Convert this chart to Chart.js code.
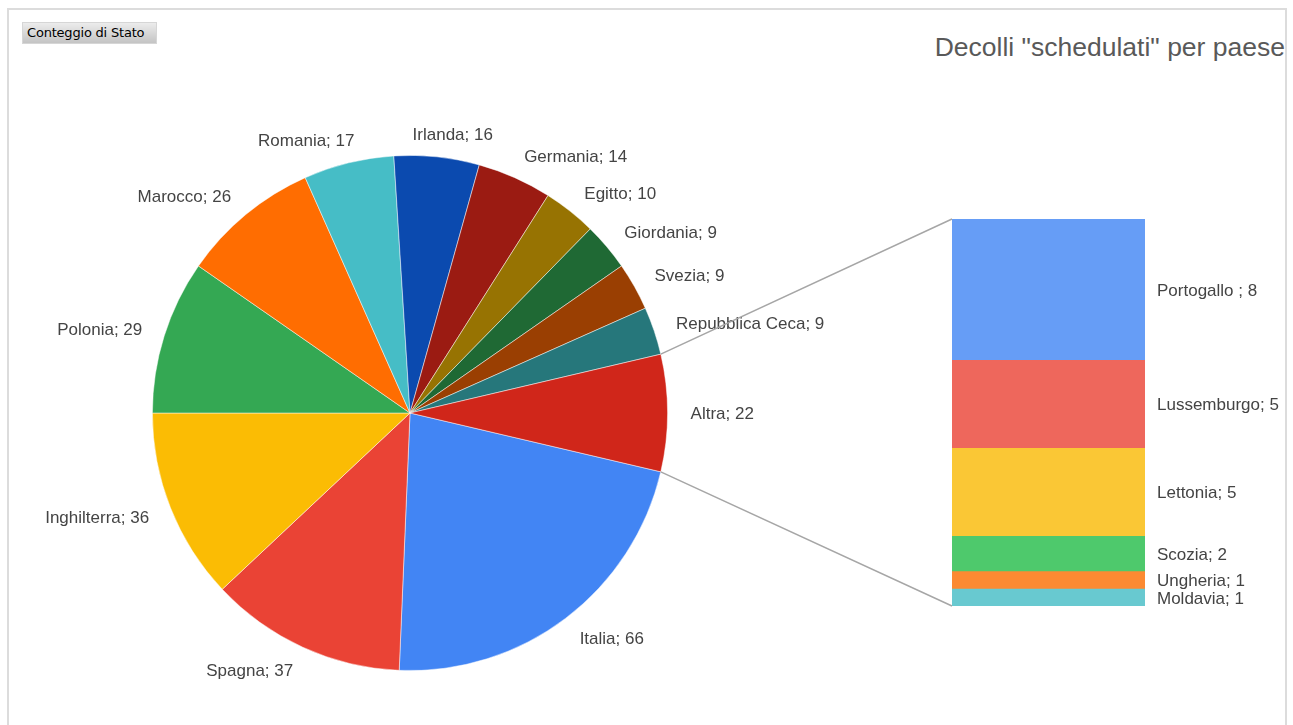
<!DOCTYPE html>
<html lang="it">
<head>
    <meta charset="UTF-8">
    <title>Decolli schedulati per paese</title>
    <style>
        html, body { margin: 0; padding: 0; background: #fff; }
        #wrap { position: relative; width: 1293px; height: 725px; overflow: hidden; }
        #frame {
            position: absolute; left: 7px; top: 8px; width: 1280px; height: 740px;
            border: 2px solid #dcdcdc; box-sizing: border-box;
        }
        #badge {
            position: absolute; left: 22px; top: 22px; width: 135px; height: 22px;
            background: linear-gradient(#ececec, #c4c4c4);
            border: 1px solid #d6d6d6; box-sizing: border-box;
            font: 13px "DejaVu Sans", sans-serif; color: #000;
            line-height: 20px; padding-left: 4px; letter-spacing: -0.2px;
        }
        #title {
            position: absolute; right: 8px; top: 32px;
            font: 26.5px "Liberation Sans", Arial, sans-serif; line-height: 30px; color: #595959;
        }
        canvas { position: absolute; left: 0; top: 0; }
    </style>
</head>
<body>
<div id="wrap">
    <div id="frame"></div>
    <div id="badge">Conteggio di Stato</div>
    <div id="title">Decolli "schedulati" per paese</div>
    <canvas id="pieChart" width="1293" height="725"></canvas>
    <canvas id="barChart" width="1293" height="725"></canvas>
</div>

<script src="https://cdn.jsdelivr.net/npm/chart.js"></script>
<script>
    // main pie, clockwise from the "Altra" slice
    const paesi = ['Italia', 'Spagna', 'Inghilterra', 'Polonia', 'Marocco', 'Romania', 'Irlanda',
        'Germania', 'Egitto', 'Giordania', 'Svezia', 'Repubblica Ceca', 'Altra'];
    const decolli = [66, 37, 36, 29, 26, 17, 16, 14, 10, 9, 9, 9, 22];
    const coloriPie = ['#4285f4', '#ea4335', '#fbbc04', '#34a853', '#ff6d01', '#46bdc6', '#0b4aaf',
        '#9b1b12', '#977302', '#1f6934', '#9a3f02', '#26777b', '#d0261a'];

    // breakdown of "Altra", top to bottom
    const altri = ['Portogallo ', 'Lussemburgo', 'Lettonia', 'Scozia', 'Ungheria', 'Moldavia'];
    const decolliAltri = [8, 5, 5, 2, 1, 1];
    const coloriBar = ['#669df6', '#ee675c', '#fac735', '#4ec96c', '#fc8a32', '#68c9d0'];

    const FONT = '17px "Liberation Sans", Arial, sans-serif';
    const TEXT = '#444444';

    let pie, bar;

    const total = decolli.reduce((a, b) => a + b, 0);
    const altraVal = decolli[decolli.length - 1];

    const pieLabels = {
        id: 'pieLabels',
        afterDraw(chart) {
            const ctx = chart.ctx;
            const meta = chart.getDatasetMeta(0);
            ctx.save();
            ctx.font = FONT;
            ctx.fillStyle = TEXT;
            ctx.textBaseline = 'middle';
            ctx.textAlign = 'left';
            meta.data.forEach((arc, i) => {
                const p = arc.getProps(['x', 'y', 'startAngle', 'endAngle', 'outerRadius'], true);
                const mid = (p.startAngle + p.endAngle) / 2;
                const dx = Math.cos(mid), dy = Math.sin(mid);
                const r = p.outerRadius + 23;
                const ax = p.x + r * dx, ay = p.y + r * dy;
                const txt = paesi[i] + '; ' + decolli[i];
                const w = ctx.measureText(txt).width;
                const f = Math.max(0, 0.5 - 1.6 * Math.abs(dx));
                const left = dx >= 0 ? ax - w * f : ax - w + w * f;
                ctx.fillText(txt, left, ay + 1 + Math.max(0, dy) * 2.5);
            });
            ctx.restore();
        }
    };

    const barExtras = {
        id: 'barExtras',
        afterDraw(chart) {
            const ctx = chart.ctx;
            const area = chart.chartArea;
            let top = Infinity, bottom = -Infinity;
            ctx.save();
            ctx.font = FONT;
            ctx.fillStyle = TEXT;
            ctx.textBaseline = 'middle';
            ctx.textAlign = 'left';
            chart.data.datasets.forEach((ds, i) => {
                const el = chart.getDatasetMeta(i).data[0];
                const p = el.getProps(['x', 'y', 'base', 'width'], true);
                top = Math.min(top, p.y, p.base);
                bottom = Math.max(bottom, p.y, p.base);
                ctx.fillText(altri[i] + '; ' + decolliAltri[i], area.right + 12, (p.y + p.base) / 2 + 2);
            });

            // connectors from the "Altra" slice to the stacked bar
            const arc = pie.getDatasetMeta(0).data[decolli.length - 1];
            const a = arc.getProps(['x', 'y', 'startAngle', 'endAngle', 'outerRadius'], true);
            ctx.strokeStyle = '#a6a6a6';
            ctx.lineWidth = 1.5;
            ctx.beginPath();
            ctx.moveTo(a.x + a.outerRadius * Math.cos(a.startAngle), a.y + a.outerRadius * Math.sin(a.startAngle));
            ctx.lineTo(area.left, top);
            ctx.moveTo(a.x + a.outerRadius * Math.cos(a.endAngle), a.y + a.outerRadius * Math.sin(a.endAngle));
            ctx.lineTo(area.left, bottom);
            ctx.stroke();
            ctx.restore();
        }
    };

    function init() {
        pie = new Chart(document.getElementById('pieChart'), {
            type: 'pie',
            data: {
                labels: paesi,
                datasets: [{
                    data: decolli,
                    backgroundColor: coloriPie,
                    borderColor: 'rgba(255,255,255,0.6)',
                    borderWidth: 0.8,
                }]
            },
            options: {
                responsive: false,
                animation: false,
                rotation: 90 + (altraVal / total) * 180,
                layout: { padding: { left: 152, right: 625, top: 155, bottom: 54 } },
                plugins: { legend: { display: false }, tooltip: { enabled: false } }
            },
            plugins: [pieLabels]
        });

        bar = new Chart(document.getElementById('barChart'), {
            type: 'bar',
            data: {
                labels: ['Altra'],
                datasets: altri.map((n, i) => ({
                    label: n,
                    data: [decolliAltri[i]],
                    backgroundColor: coloriBar[i],
                    borderWidth: 0,
                    barPercentage: 1,
                    categoryPercentage: 1,
                }))
            },
            options: {
                responsive: false,
                animation: false,
                layout: { padding: { left: 952, right: 148, top: 219, bottom: 119 } },
                scales: {
                    x: { stacked: true, display: false },
                    y: { stacked: true, display: false, reverse: true, min: 0, max: 22 }
                },
                plugins: { legend: { display: false }, tooltip: { enabled: false } }
            },
            plugins: [barExtras]
        });
    }

    document.addEventListener('DOMContentLoaded', init);
</script>
</body>
</html>
